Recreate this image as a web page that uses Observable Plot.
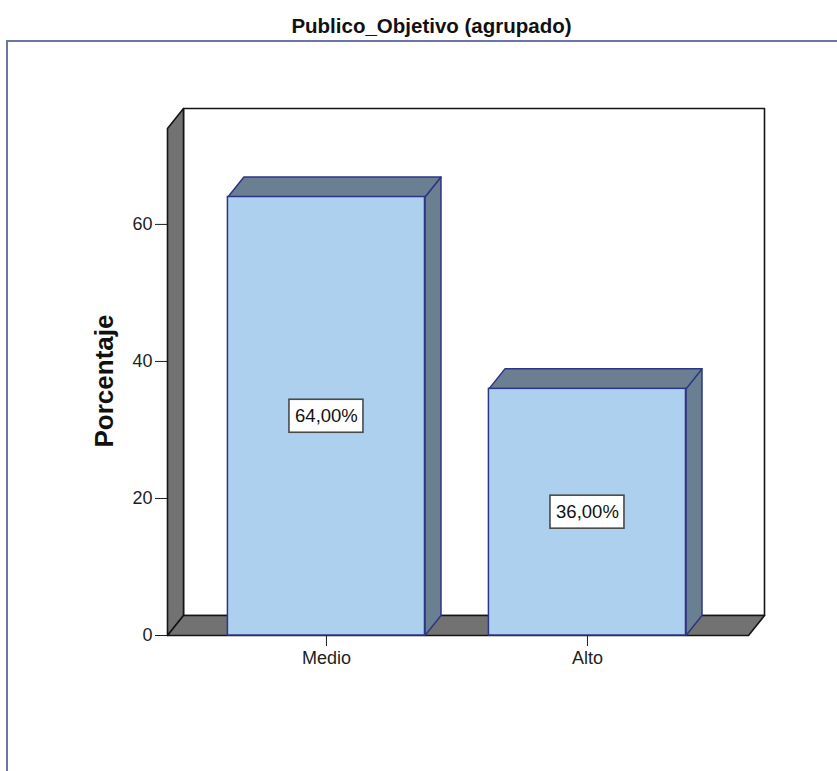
<!DOCTYPE html>
<html>
<head>
<meta charset="utf-8">
<script src="https://cdn.jsdelivr.net/npm/d3@7"></script>
<script src="https://cdn.jsdelivr.net/npm/@observablehq/plot@0.6"></script>
<style>
  html, body { margin: 0; padding: 0; background: #fff; }
  #wrap { position: relative; width: 837px; height: 771px; overflow: hidden; }
  #frame {
    position: absolute; left: 6px; top: 40px; right: -4px; bottom: -4px;
    border-top: 2px solid #6d74a6; border-left: 2px solid #6d74a6;
    pointer-events: none;
  }
</style>
</head>
<body>
<div id="wrap"><div id="frame"></div></div>
<script>
// Chart data
const title = "Publico_Objetivo (agrupado)";
const yLabel = "Porcentaje";
const categories = ["Medio", "Alto"];
const percentages = [64, 36];
const yTicks = [0, 20, 40, 60];

// Box geometry, in data units (x: category slots, y: percent)
const yMax = 74;          // height of the side wall
const xStart = -0.609;    // left edge of the floor
const xEnd = 1.617;       // right edge of the floor
const barWidth = 0.755;
const depthX = 0.0613;    // 3D depth offset along x
const depthY = 2.92;      // 3D depth offset along y

const bars = categories.map((name, i) => ({name, x: i, v: percentages[i]}));

function poly(id, pts) {
  return pts.map(([x, y]) => ({id, x, y}));
}

const backWall = poly("back", [
  [xStart + depthX, depthY], [xEnd + depthX, depthY],
  [xEnd + depthX, yMax + depthY], [xStart + depthX, yMax + depthY]
]);
const leftWall = poly("left", [
  [xStart, 0], [xStart, yMax], [xStart + depthX, yMax + depthY], [xStart + depthX, depthY]
]);
const floor = poly("floor", [
  [xStart, 0], [xEnd, 0], [xEnd + depthX, depthY], [xStart + depthX, depthY]
]);

const barTops = bars.flatMap(b => {
  const l = b.x - barWidth / 2, r = b.x + barWidth / 2;
  return poly("top-" + b.name, [[l, b.v], [r, b.v], [r + depthX, b.v + depthY], [l + depthX, b.v + depthY]]);
});
const barSides = bars.flatMap(b => {
  const r = b.x + barWidth / 2;
  return poly("side-" + b.name, [[r, 0], [r + depthX, depthY], [r + depthX, b.v + depthY], [r, b.v]]);
});

const fmt = v => v.toFixed(2).replace(".", ",") + "%";

const wallFill = "#727272", wallStroke = "#141414";
const barFill = "#acd0ee", barShade = "#6a7f92", barStroke = "#2f3585";

const chart = Plot.plot({
  width: 837,
  height: 771,
  marginTop: 128,
  marginBottom: 136,
  marginLeft: 167,
  marginRight: 89,
  style: {fontFamily: "'Liberation Sans', Arial, sans-serif", fontSize: "18px", color: "#1e1e1e", background: "transparent"},
  x: {domain: [xStart, xEnd], ticks: [0, 1], tickFormat: i => categories[i], tickSize: 11, tickPadding: 5, label: null},
  y: {domain: [0, yMax], ticks: yTicks, tickSize: 12, tickPadding: 3, label: null},
  marks: [
    Plot.line(backWall, {x: "x", y: "y", z: "id", curve: "linear-closed", fill: "white", stroke: wallStroke, strokeWidth: 1.6}),
    Plot.line(leftWall, {x: "x", y: "y", z: "id", curve: "linear-closed", fill: wallFill, stroke: wallStroke, strokeWidth: 1.6}),
    Plot.line(floor, {x: "x", y: "y", z: "id", curve: "linear-closed", fill: wallFill, stroke: wallStroke, strokeWidth: 1.6}),
    Plot.line(barSides, {x: "x", y: "y", z: "id", curve: "linear-closed", fill: barShade, stroke: barStroke, strokeWidth: 1.5}),
    Plot.line(barTops, {x: "x", y: "y", z: "id", curve: "linear-closed", fill: barShade, stroke: barStroke, strokeWidth: 1.5}),
    Plot.rect(bars, {
      x1: d => d.x - barWidth / 2, x2: d => d.x + barWidth / 2, y1: 0, y2: "v",
      fill: barFill, stroke: barStroke, strokeWidth: 1.5
    }),
    // value labels in white boxes at mid-height of each bar
    Plot.rect(bars, {
      x1: "x", x2: "x", y1: d => d.v / 2, y2: d => d.v / 2,
      insetLeft: -37, insetRight: -37, insetTop: -16.5, insetBottom: -16.5,
      fill: "white", stroke: "#4a4a4a", strokeWidth: 1.6
    }),
    Plot.text(bars, {x: "x", y: d => d.v / 2, text: d => fmt(d.v), fontSize: 18.5, fill: "#111"}),
    // axis title and chart title
    Plot.text([yLabel], {frameAnchor: "left", textAnchor: "middle", dx: -63, dy: -1, rotate: -90, fontSize: 26, fontWeight: "bold", fill: "#111"}),
    Plot.text([title], {frameAnchor: "top", lineAnchor: "middle", dx: -26.5, dy: -102, fontSize: 20.5, fontWeight: "bold", fill: "#111"})
  ]
});

document.getElementById("wrap").prepend(chart);
chart.style.position = "absolute";
chart.style.left = "0";
chart.style.top = "0";
</script>
</body>
</html>
